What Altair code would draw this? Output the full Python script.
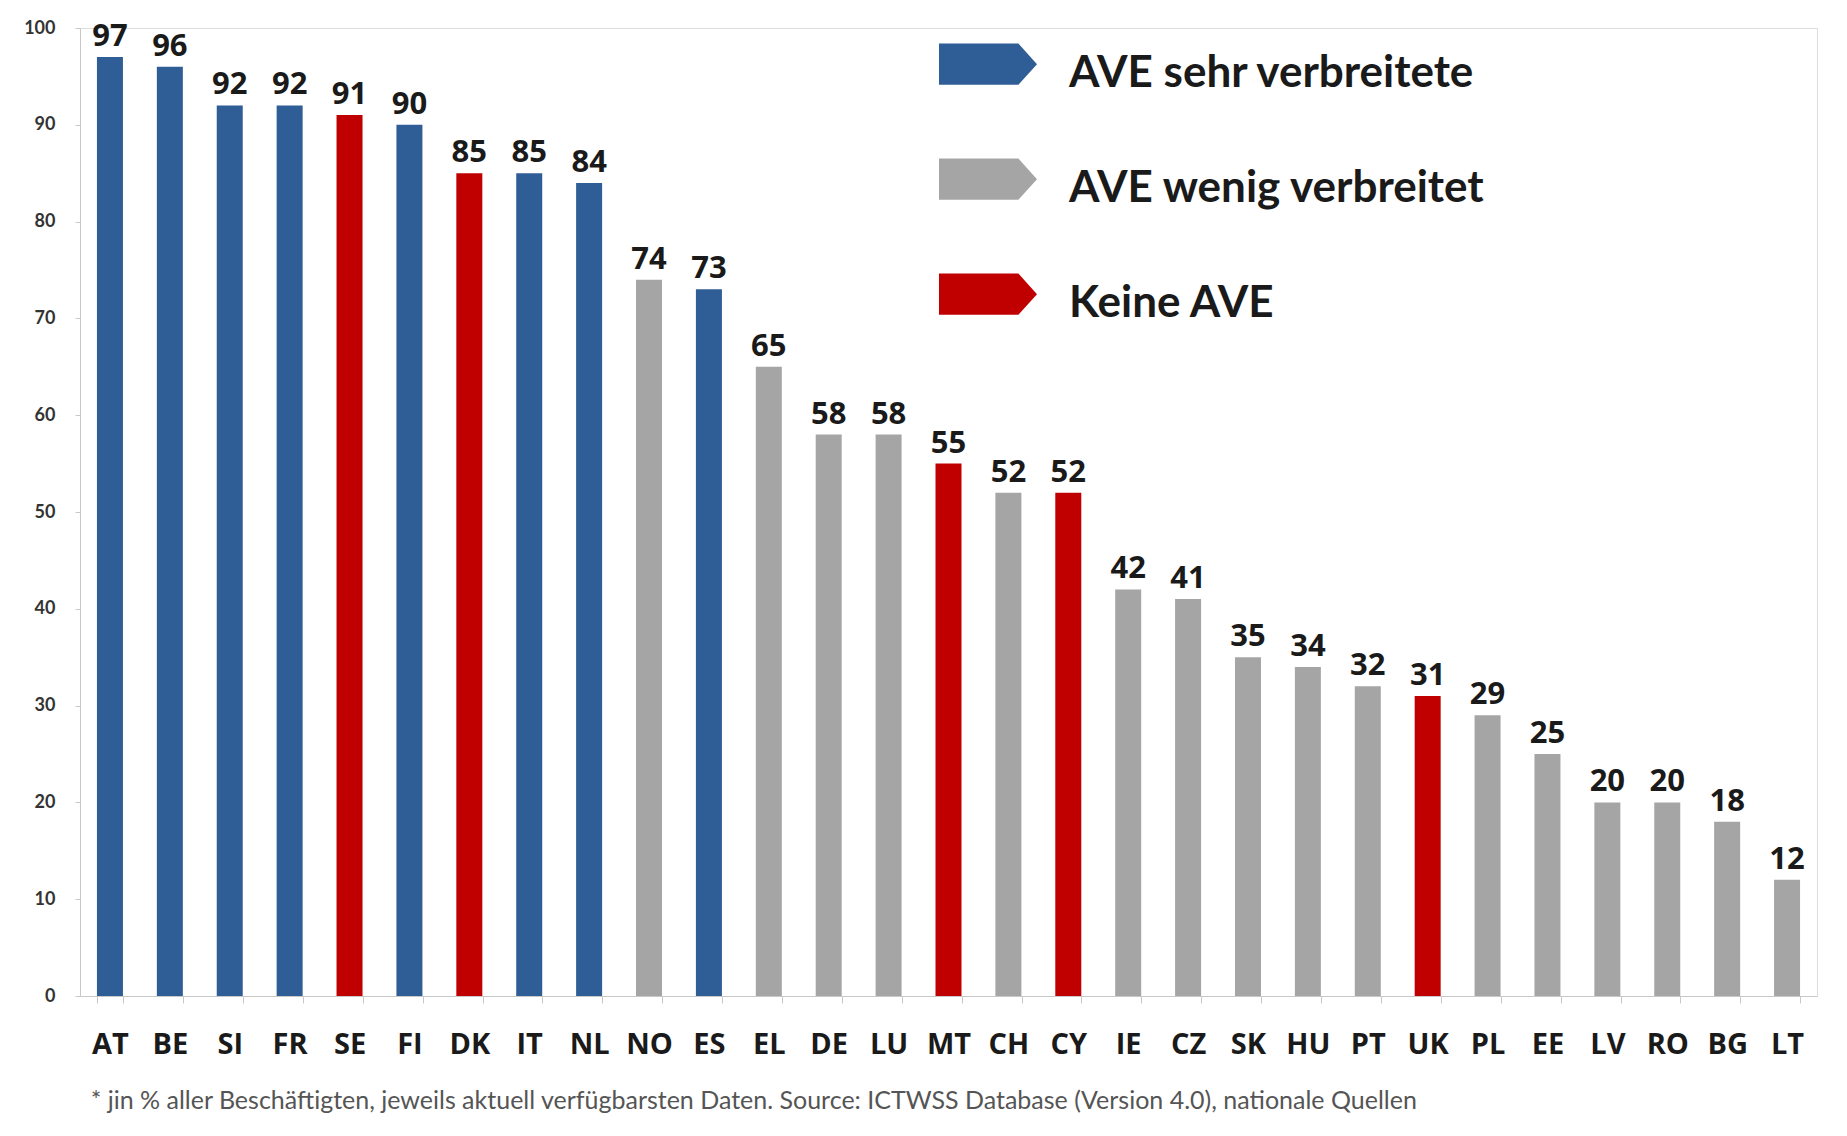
import altair as alt
import pandas as pd

countries = ["AT", "BE", "SI", "FR", "SE", "FI", "DK", "IT", "NL", "NO", "ES", "EL", "DE", "LU", "MT",
             "CH", "CY", "IE", "CZ", "SK", "HU", "PT", "UK", "PL", "EE", "LV", "RO", "BG", "LT"]
values = [97, 96, 92, 92, 91, 90, 85, 85, 84, 74, 73, 65, 58, 58, 55,
          52, 52, 42, 41, 35, 34, 32, 31, 29, 25, 20, 20, 18, 12]
groups = ["AVE sehr verbreitete", "AVE sehr verbreitete", "AVE sehr verbreitete", "AVE sehr verbreitete",
          "Keine AVE", "AVE sehr verbreitete", "Keine AVE", "AVE sehr verbreitete", "AVE sehr verbreitete",
          "AVE wenig verbreitet", "AVE sehr verbreitete", "AVE wenig verbreitet", "AVE wenig verbreitet",
          "AVE wenig verbreitet", "Keine AVE", "AVE wenig verbreitet", "Keine AVE", "AVE wenig verbreitet",
          "AVE wenig verbreitet", "AVE wenig verbreitet", "AVE wenig verbreitet", "AVE wenig verbreitet",
          "Keine AVE", "AVE wenig verbreitet", "AVE wenig verbreitet", "AVE wenig verbreitet",
          "AVE wenig verbreitet", "AVE wenig verbreitet", "AVE wenig verbreitet"]
legend_labels = ["AVE sehr verbreitete", "AVE wenig verbreitet", "Keine AVE"]
legend_colors = ["#2F5D95", "#A5A5A5", "#C00000"]
footnote = "* jin % aller Beschäftigten, jeweils aktuell verfügbarsten Daten. Source:  ICTWSS Database (Version  4.0), nationale Quellen"

df = pd.DataFrame({"Land": countries, "Wert": values, "Gruppe": groups})

FONT = "Lato"
BOLDFONT = "Open Sans"
arrow = "M-1,-0.62 L0.62,-0.62 L1,-0.2 L0.62,0.22 L-1,0.22 Z"

x = alt.X("Land:N", sort=countries, title=None,
          scale=alt.Scale(paddingInner=0.56, paddingOuter=0.28),
          axis=alt.Axis(labelAngle=0, labelFont=BOLDFONT, labelFontSize=29, labelFontWeight="bold",
                        labelColor="#1a1a1a", labelPadding=27, tickSize=7, tickColor="#c8c8c8",
                        domainColor="#c8c8c8", tickBand="extent"))
y = alt.Y("Wert:Q", title=None, scale=alt.Scale(domain=[0, 100], nice=False),
          axis=alt.Axis(values=list(range(0, 101, 10)), labelFont=FONT, labelFontSize=18,
                        labelFontWeight="bold", labelColor="#333333", labelPadding=20, tickSize=5,
                        tickColor="#c8c8c8", domainColor="#c8c8c8", grid=False))

bars = alt.Chart(df).mark_bar(size=26).encode(
    x=x, y=y,
    color=alt.Color("Gruppe:N", scale=alt.Scale(domain=legend_labels, range=legend_colors),
                    legend=alt.Legend(title=None, orient="none", legendX=859, legendY=-3,
                                      symbolType=arrow, symbolSize=9604, symbolStrokeWidth=0,
                                      symbolOpacity=1, labelFont=FONT, labelFontSize=44,
                                      labelFontWeight="bold", labelColor="#1a1a1a",
                                      labelOffset=32, rowPadding=44, padding=0,
                                      labelLimit=700))
)

labels = alt.Chart(df).mark_text(baseline="bottom", dy=-4, font=BOLDFONT, fontSize=31,
                                 fontWeight="bold", color="#1a1a1a").encode(
    x=alt.X("Land:N", sort=countries), y="Wert:Q", text="Wert:Q")

chart = alt.layer(bars, labels).properties(
    width=1737, height=968,
    autosize=alt.AutoSizeParams(type="none"),
    padding={"left": 72, "top": 20, "right": 10, "bottom": 120},
    title=alt.TitleParams(footnote, orient="bottom", anchor="start", font=FONT, fontSize=25,
                          fontWeight="normal", color="#555555", offset=30, dx=67),
).configure_view(stroke=None).configure(background="white")

chart.save("out.html", embed_options={"renderer": "svg", "actions": False})
